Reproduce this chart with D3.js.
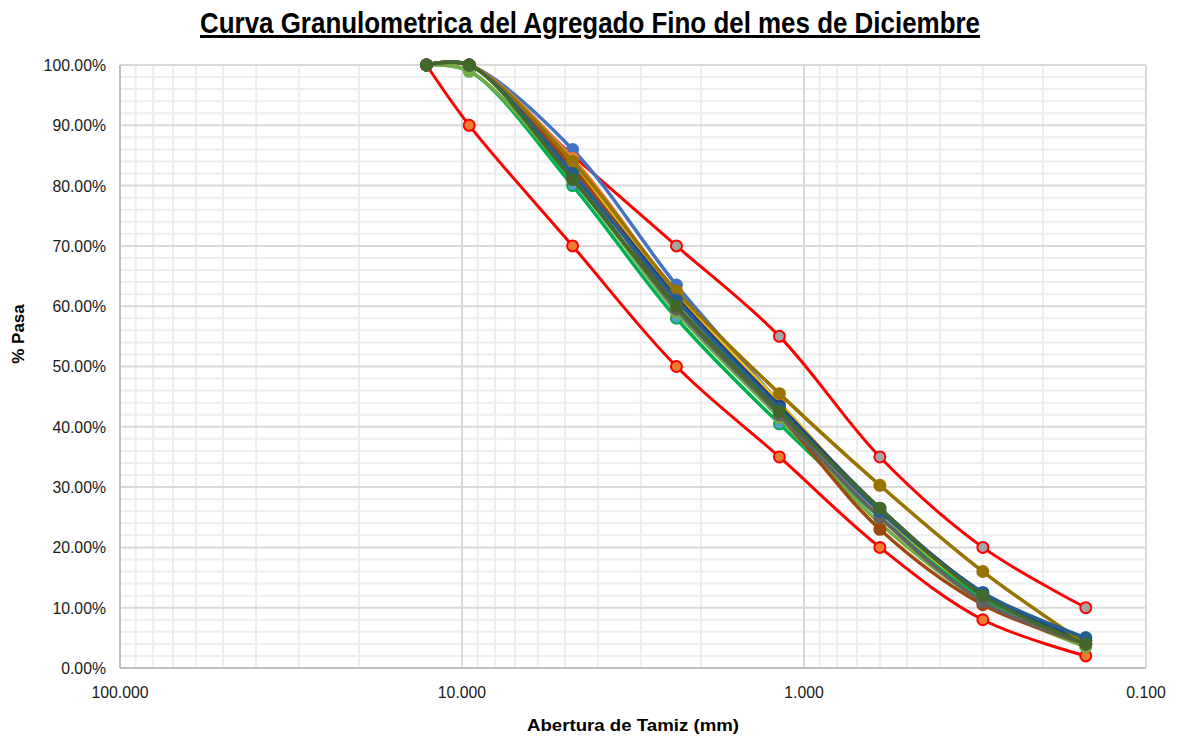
<!DOCTYPE html>
<html>
<head>
<meta charset="utf-8">
<script src="https://cdn.jsdelivr.net/npm/d3@7"></script>
<style>
  body { margin: 0; background: #fff; }
  text { font-family: "Liberation Sans", Arial, sans-serif; }
</style>
</head>
<body>
<script>
// sieve openings (mm)
var sieves = [12.7, 9.525, 4.75, 2.36, 1.18, 0.6, 0.3, 0.15];

// gradation limits
var upperLimit = [100, 100, 85, 70, 55, 35, 20, 10];
var lowerLimit = [100, 90, 70, 50, 35, 20, 8, 2];

// monthly samples (% passing)
var s1  = [100, 100,  86.0, 63.5, 44.0, 26.0, 12.0, 4.5];
var s2  = [100, 100,  84.5, 62.0, 43.0, 25.0, 11.0, 4.0];
var s3  = [100, 100,  84.0, 61.0, 42.5, 25.5, 11.5, 4.5];
var s4  = [100, 100,  83.5, 62.0, 44.0, 26.0, 12.0, 4.0];
var s5  = [100, 99,   80.0, 58.0, 40.5, 25.0, 11.5, 5.0];
var s6  = [100, 99,   81.0, 59.0, 41.5, 24.0, 11.0, 3.5];
var s7  = [100, 100,  82.5, 61.5, 43.5, 26.5, 12.5, 4.5];
var s8  = [100, 100,  83.0, 60.0, 42.0, 23.0, 10.5, 4.0];
var s9  = [100, 100,  81.5, 59.5, 42.0, 25.0, 11.0, 4.0];
var s10 = [100, 100,  84.0, 62.5, 45.5, 30.3, 16.0, 4.0];
var s11 = [100, 100,  82.0, 61.0, 43.0, 26.0, 12.5, 5.0];
var s12 = [100, 100,  81.0, 60.0, 42.5, 26.5, 12.0, 4.0];

var samples = [
  { v: s1,  line: "#4472C4", fill: "#4472C4" },
  { v: s2,  line: "#ED7D31", fill: "#ED7D31" },
  { v: s3,  line: "#A5A5A5", fill: "#A5A5A5" },
  { v: s4,  line: "#FFC000", fill: "#FFC000" },
  { v: s5,  line: "#00B050", fill: "#5B9BD5" },
  { v: s6,  line: "#70AD47", fill: "#70AD47" },
  { v: s7,  line: "#264478", fill: "#264478" },
  { v: s8,  line: "#9E480E", fill: "#9E480E" },
  { v: s9,  line: "#636363", fill: "#636363" },
  { v: s10, line: "#997300", fill: "#997300" },
  { v: s11, line: "#255E91", fill: "#255E91" },
  { v: s12, line: "#43682B", fill: "#43682B" }
];

var xTicks = [100, 10, 1, 0.1];
var yTicks = [0, 10, 20, 30, 40, 50, 60, 70, 80, 90, 100];

var W = 1184, H = 739;
var pLeft = 120, pRight = 1146, pTop = 65, pBottom = 668;

var svg = d3.select("body").append("svg")
  .attr("width", W).attr("height", H);

var x = d3.scaleLog().domain([100, 0.1]).range([pLeft, pRight]);
var y = d3.scaleLinear().domain([0, 100]).range([pBottom, pTop]);

// minor grid
var minorX = [];
[100, 10, 1].forEach(function (dec) {
  for (var k = 2; k <= 9; k++) minorX.push(dec / 10 * k);
});
var minorY = d3.range(0, 101, 2).filter(function (d) { return d % 10 != 0; });

svg.append("g").selectAll("line").data(minorX).join("line")
  .attr("x1", d => x(d)).attr("x2", d => x(d))
  .attr("y1", pTop).attr("y2", pBottom)
  .attr("stroke", "#eeeeee").attr("stroke-width", 2);
svg.append("g").selectAll("line").data(minorY).join("line")
  .attr("x1", pLeft).attr("x2", pRight)
  .attr("y1", d => y(d)).attr("y2", d => y(d))
  .attr("stroke", "#eeeeee").attr("stroke-width", 2);

// major grid
svg.append("g").selectAll("line").data(xTicks).join("line")
  .attr("x1", d => x(d)).attr("x2", d => x(d))
  .attr("y1", pTop).attr("y2", pBottom)
  .attr("stroke", "#d9d9d9").attr("stroke-width", 2);
svg.append("g").selectAll("line").data(yTicks).join("line")
  .attr("x1", pLeft).attr("x2", pRight)
  .attr("y1", d => y(d)).attr("y2", d => y(d))
  .attr("stroke", "#d9d9d9").attr("stroke-width", 2);

// axis lines
svg.append("line").attr("x1", pLeft).attr("x2", pLeft).attr("y1", pTop).attr("y2", pBottom)
  .attr("stroke", "#bfbfbf").attr("stroke-width", 2);
svg.append("line").attr("x1", pLeft).attr("x2", pRight).attr("y1", pBottom).attr("y2", pBottom)
  .attr("stroke", "#bfbfbf").attr("stroke-width", 2);

// tick labels
var fmtY = d3.format(".2f");
svg.append("g").selectAll("text").data(yTicks).join("text")
  .attr("x", pLeft - 14).attr("y", d => y(d) + 6)
  .attr("text-anchor", "end").attr("font-size", 17).attr("fill", "#1a1a1a")
  .attr("transform", d => "translate(" + (pLeft - 14) + ",0) scale(0.93,1) translate(" + (-(pLeft - 14)) + ",0)")
  .text(d => fmtY(d) + "%");
var fmtX = d3.format(".3f");
svg.append("g").selectAll("text").data(xTicks).join("text")
  .attr("x", d => x(d)).attr("y", pBottom + 30)
  .attr("text-anchor", "middle").attr("font-size", 17).attr("fill", "#1a1a1a")
  .attr("transform", d => "translate(" + x(d) + ",0) scale(0.93,1) translate(" + (-x(d)) + ",0)")
  .text(d => fmtX(d));

// series
var line = d3.line()
  .x(function (d, i) { return x(sieves[i]); })
  .y(function (d) { return y(d); })
  .curve(d3.curveCatmullRom.alpha(0.5));

function drawSeries(vals, stroke, fill, markStroke, width) {
  var g = svg.append("g");
  g.append("path").datum(vals)
    .attr("d", line).attr("fill", "none")
    .attr("stroke", stroke).attr("stroke-width", width);
  g.selectAll("circle").data(vals).join("circle")
    .attr("cx", function (d, i) { return x(sieves[i]); })
    .attr("cy", d => y(d))
    .attr("r", 5.5)
    .attr("fill", fill).attr("stroke", markStroke).attr("stroke-width", 2);
}

drawSeries(upperLimit, "#FF0000", "#A5A5A5", "#FF0000", 3);
drawSeries(lowerLimit, "#FF0000", "#ED7D31", "#FF0000", 3);
samples.forEach(function (s) {
  drawSeries(s.v, s.line, s.fill, s.line, 3.5);
});

// title
svg.append("text")
  .attr("x", 200).attr("y", 33)
  .attr("font-size", 30).attr("font-weight", "bold")
  .attr("text-decoration", "underline")
  .attr("textLength", 780).attr("lengthAdjust", "spacingAndGlyphs")
  .text("Curva Granulometrica del Agregado Fino del mes de Diciembre");

// axis titles
svg.append("text")
  .attr("x", 633).attr("y", 731)
  .attr("text-anchor", "middle").attr("font-size", 17).attr("font-weight", "bold")
  .attr("textLength", 212).attr("lengthAdjust", "spacingAndGlyphs")
  .text("Abertura de Tamiz (mm)");
svg.append("text")
  .attr("transform", "translate(24,334) rotate(-90)")
  .attr("text-anchor", "middle").attr("font-size", 17).attr("font-weight", "bold")
  .text("% Pasa");
</script>
</body>
</html>
